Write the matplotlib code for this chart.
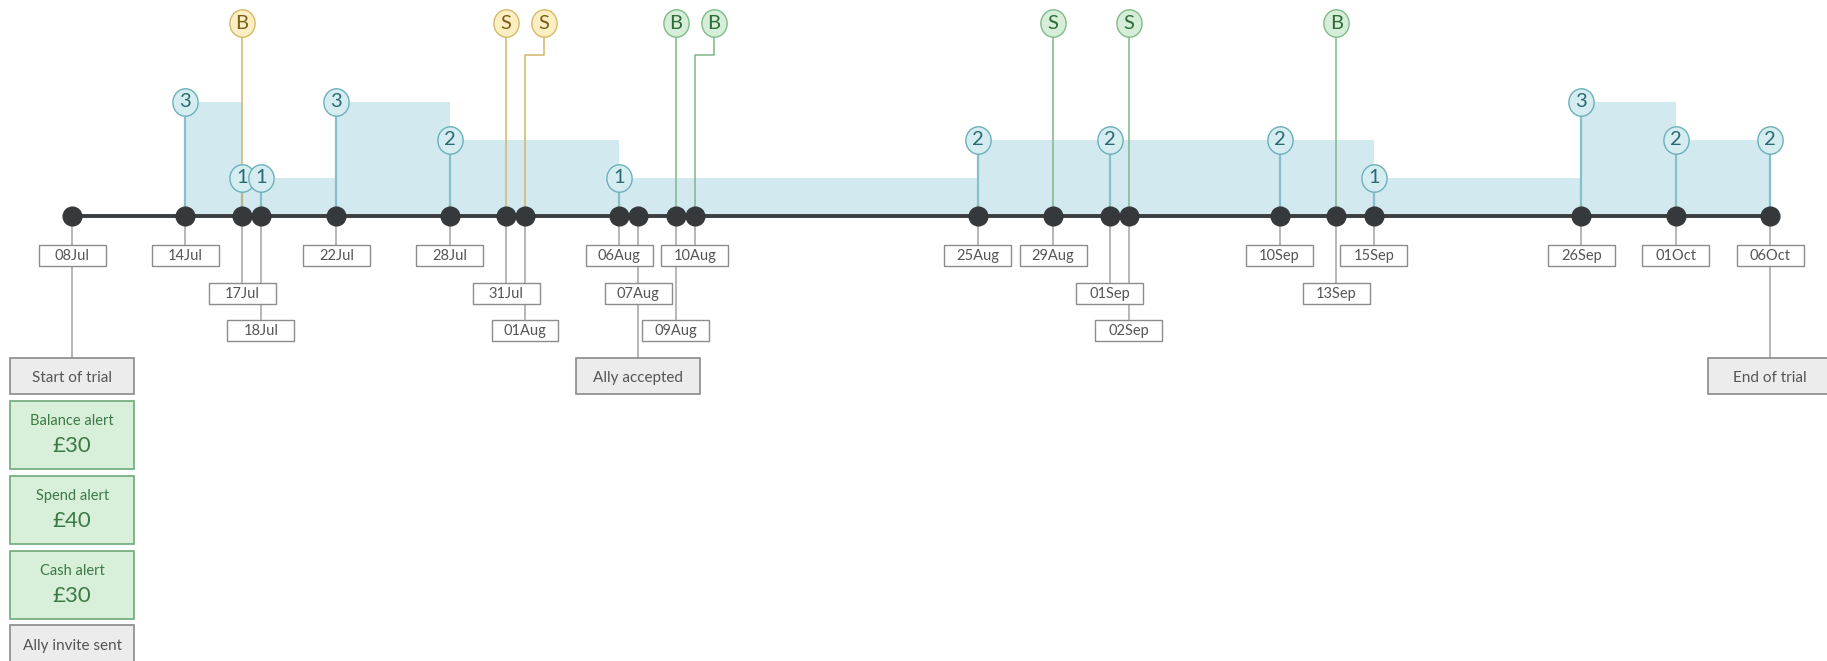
import matplotlib
matplotlib.use("Agg")
import matplotlib.pyplot as plt
import matplotlib.dates as mdates
from matplotlib.patches import Rectangle
from matplotlib.path import Path
import numpy as np

plt.rcParams["font.family"] = ["Lato", "DejaVu Sans"]

# Days on the timeline and which label row their date box sits in
dot_dates = ["2019-07-08", "2019-07-14", "2019-07-17", "2019-07-18", "2019-07-22",
             "2019-07-28", "2019-07-31", "2019-08-01", "2019-08-06", "2019-08-07",
             "2019-08-09", "2019-08-10", "2019-08-25", "2019-08-29", "2019-09-01",
             "2019-09-02", "2019-09-10", "2019-09-13", "2019-09-15", "2019-09-26",
             "2019-10-01", "2019-10-06"]
dot_labels = ["08Jul", "14Jul", "17Jul", "18Jul", "22Jul", "28Jul", "31Jul", "01Aug",
              "06Aug", "07Aug", "09Aug", "10Aug", "25Aug", "29Aug", "01Sep", "02Sep",
              "10Sep", "13Sep", "15Sep", "26Sep", "01Oct", "06Oct"]
label_row = [1, 1, 2, 3, 1, 1, 2, 3, 1, 2, 3, 1, 1, 1, 2, 3, 1, 2, 1, 1, 1, 1]

# Level readings (step area + numbered circles)
level_dates = ["2019-07-14", "2019-07-17", "2019-07-18", "2019-07-22", "2019-07-28",
               "2019-08-06", "2019-08-25", "2019-09-01", "2019-09-10", "2019-09-15",
               "2019-09-26", "2019-10-01", "2019-10-06"]
level_vals = [3, 1, 1, 3, 2, 1, 2, 2, 2, 1, 3, 2, 2]

# Top markers (B / S)
marker_dates = ["2019-07-17", "2019-07-31", "2019-08-01", "2019-08-09", "2019-08-10",
                "2019-08-29", "2019-09-02", "2019-09-13"]
marker_text = ["B", "S", "S", "B", "B", "S", "S", "B"]
marker_kind = ["yellow", "yellow", "yellow", "green", "green", "green", "green", "green"]
marker_shift = [0, 0, 1, 0, 1, 0, 0, 0]

# Boxes hanging off the timeline
event_dates = ["2019-07-08", "2019-08-07", "2019-10-06"]
event_text = ["Start of trial", "Ally accepted", "End of trial"]
alert_names = ["Balance alert", "Spend alert", "Cash alert"]
alert_amounts = ["£30", "£40", "£30"]
last_box_text = "Ally invite sent"

styles = {
    "yellow": dict(face="#fbeec2", edge="#d6b967", text="#7a5f16", line="#d1b56c"),
    "green": dict(face="#d6eed8", edge="#7fbb88", text="#2e6b36", line="#7db886"),
}
teal = dict(face="#d5ecf0", edge="#6cb0ba", text="#2a6a73", line="#86c0c9", fill="#d2eaef")

# slightly tall ellipse marker
t = np.linspace(0, 2 * np.pi, 60)
oval = Path(np.column_stack([0.92 * np.cos(t), np.sin(t)]), closed=True)


def dnum(d):
    return mdates.date2num(np.datetime64(d))


x_dots = np.array([dnum(d) for d in dot_dates])
x_lev = np.array([dnum(d) for d in level_dates])
x_mark = np.array([dnum(d) for d in marker_dates])
x_events = [dnum(d) for d in event_dates]
x0 = x_dots[0]

fig = plt.figure(figsize=(18.27, 6.61), dpi=100)
ax = fig.add_axes([0, 0, 1, 1])
ax.set_xlim(x0 - 3.83, x0 + 93.02)
ax.set_ylim(-11.71, 5.684)
ax.axis("off")

row_y = {1: -1.04, 2: -2.03, 3: -3.01}
box_w, box_h = 3.55, 0.553
ev_w, ev_h = 6.57, 0.97
ev_y = -4.21
circ_s = 390

# step area
ax.fill_between(x_lev, 0, level_vals, step="post", color=teal["fill"], lw=0, zorder=0.5)

# grey connectors and date boxes
for x, lab, r in zip(x_dots, dot_labels, label_row):
    bottom = ev_y if x in x_events else row_y[r]
    ax.plot([x, x], [0, bottom], color="#a3a3a3", lw=1.1, zorder=1)
    ax.add_patch(Rectangle((x - box_w / 2, row_y[r] - box_h / 2), box_w, box_h,
                           facecolor="white", edgecolor="#8c8c8c", lw=1.0, zorder=5))
    ax.text(x, row_y[r] - 0.02, lab, ha="center", va="center", fontsize=10.5,
            color="#555555", zorder=6)

# event boxes
for x, txt in zip(x_events, event_text):
    ax.add_patch(Rectangle((x - ev_w / 2, ev_y - ev_h / 2), ev_w, ev_h,
                           facecolor="#ececec", edgecolor="#8a8a8a", lw=1.2, zorder=5))
    ax.text(x, ev_y - 0.05, txt, ha="center", va="center", fontsize=11,
            color="#555555", zorder=6)

# stacked alert boxes under start of trial
al_h, gap = 1.80, 0.17
y_top = ev_y - ev_h / 2 - gap
for name, amt in zip(alert_names, alert_amounts):
    yc = y_top - al_h / 2
    ax.add_patch(Rectangle((x0 - ev_w / 2, y_top - al_h), ev_w, al_h,
                           facecolor="#d8efda", edgecolor="#6fa979", lw=1.2, zorder=5))
    ax.text(x0, yc + 0.36, name, ha="center", va="center", fontsize=10.5,
            color="#3b7a44", zorder=6)
    ax.text(x0, yc - 0.30, amt, ha="center", va="center", fontsize=16,
            color="#3b7a44", zorder=6)
    y_top = y_top - al_h - gap
ax.add_patch(Rectangle((x0 - ev_w / 2, y_top - ev_h), ev_w, ev_h,
                       facecolor="#ececec", edgecolor="#8a8a8a", lw=1.2, zorder=5))
ax.text(x0, y_top - ev_h / 2 - 0.05, last_box_text, ha="center", va="center", fontsize=11,
        color="#555555", zorder=6)

# teal stems + circles
for x, v in zip(x_lev, level_vals):
    ax.plot([x, x], [0, v], color=teal["line"], lw=1.6, zorder=2)
ax.scatter(x_lev, level_vals, s=circ_s, marker=oval, facecolor=teal["face"],
           edgecolor=teal["edge"], lw=1.0, zorder=7)
for x, v in zip(x_lev, level_vals):
    ax.text(x, v, str(v), ha="center", va="center", fontsize=14.5,
            color=teal["text"], zorder=8)

# top markers
top_y, elbow_y = 5.07, 4.24
for x, txt, k, s in zip(x_mark, marker_text, marker_kind, marker_shift):
    st = styles[k]
    xc = x + s
    if s:
        ax.plot([x, x, xc, xc], [0, elbow_y, elbow_y, top_y], color=st["line"], lw=1.1, zorder=2)
    else:
        ax.plot([x, x], [0, top_y], color=st["line"], lw=1.1, zorder=2)
    ax.scatter([xc], [top_y], s=circ_s, marker=oval, facecolor=st["face"],
               edgecolor=st["edge"], lw=1.0, zorder=7)
    ax.text(xc, top_y, txt, ha="center", va="center", fontsize=14.5, color=st["text"], zorder=8)

# timeline + dots
ax.plot([x_dots[0], x_dots[-1]], [0, 0], color="#3a3e41", lw=2.8, zorder=3)
ax.plot(x_dots, np.zeros(len(x_dots)), "o", color="#35393c", markersize=13.5, zorder=4)

fig.savefig("out.png", dpi=100)
